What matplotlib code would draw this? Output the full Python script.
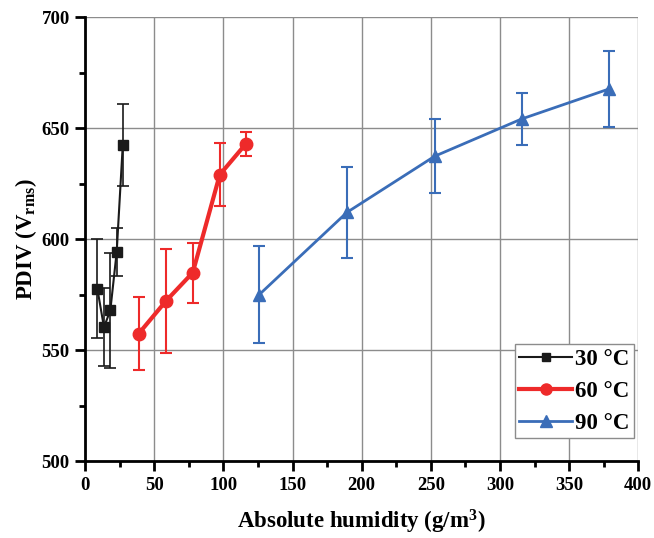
import matplotlib
matplotlib.use("Agg")
from matplotlib import pyplot as plt
from matplotlib.lines import Line2D

plt.rcParams['font.family'] = ['Liberation Serif', 'DejaVu Serif']
plt.rcParams['font.weight'] = 'bold'
plt.rcParams['mathtext.fontset'] = 'custom'
plt.rcParams['mathtext.rm'] = 'Liberation Serif:bold'
plt.rcParams['mathtext.bf'] = 'Liberation Serif:bold'
plt.rcParams['mathtext.it'] = 'Liberation Serif:bold'

# data
hum_30 = [8.9, 13.7, 18.3, 22.9, 27.3]
pdiv_30 = [577.8, 560.4, 568.0, 594.3, 642.5]
err_30 = [22.3, 17.6, 25.8, 11.0, 18.4]

hum_60 = [38.8, 58.5, 77.9, 97.4, 116.4]
pdiv_60 = [557.5, 572.2, 585.0, 629.1, 643.1]
err_60 = [16.3, 23.6, 13.5, 14.3, 5.4]

hum_90 = [126.0, 189.3, 252.7, 315.6, 378.7]
pdiv_90 = [575.1, 612.1, 637.4, 654.2, 667.7]
err_90 = [22.0, 20.6, 16.6, 11.6, 17.1]

labels = ['30 °C', '60 °C', '90 °C']

fig = plt.figure(figsize=(6.54, 5.38), dpi=100)
ax = fig.add_axes([0.130, 0.1426, 0.846, 0.8252])

styles = [dict(color='#1a1a1a', lw=1.5, marker='s', ms=7, elw=1.2),
          dict(color='#ee2a2a', lw=3, marker='o', ms=9, elw=1.5),
          dict(color='#3a6db8', lw=2, marker='^', ms=9, elw=1.5)]
series = [(hum_30, pdiv_30, err_30), (hum_60, pdiv_60, err_60),
          (hum_90, pdiv_90, err_90)]

handles = []
for (x, y, e), st, lab in zip(series, styles, labels):
    ax.errorbar(x, y, yerr=e, color=st['color'], lw=st['lw'],
                marker=st['marker'], ms=st['ms'], capsize=4,
                elinewidth=st['elw'], capthick=st['elw'], zorder=3)
    handles.append(Line2D([], [], color=st['color'], lw=st['lw'],
                          marker=st['marker'], ms=st['ms'] - 1, label=lab))

ax.set_xlim(0, 400)
ax.set_ylim(500, 700)
ax.set_xticks(range(0, 401, 50))
ax.set_yticks(range(500, 701, 50))
ax.set_xticks(range(25, 400, 50), minor=True)
ax.set_yticks(range(525, 700, 50), minor=True)
ax.grid(True, which='major', color='#8c8c8c', lw=1, zorder=0)
ax.set_axisbelow(True)

for s in ['top', 'right']:
    ax.spines[s].set_visible(False)
for s in ['left', 'bottom']:
    ax.spines[s].set_linewidth(2)

ax.tick_params(which='major', direction='out', length=7, width=2,
               labelsize=13.5, pad=4)
ax.tick_params(which='minor', direction='out', length=4, width=2)

ax.set_xlabel('Absolute humidity (g/m$^{3}$)', fontsize=16.5,
              fontweight='bold', labelpad=10)
ax.set_ylabel('PDIV (V$_{\\mathrm{rms}}$)', fontsize=16.5, fontweight='bold',
              labelpad=2)

leg = ax.legend(handles=handles, loc='lower right',
                bbox_to_anchor=(0.993, 0.052), fontsize=16.5, frameon=True,
                fancybox=False, handlelength=2.3, borderpad=0.2,
                labelspacing=0.48, handletextpad=0.15, borderaxespad=0)
leg.get_frame().set_edgecolor('#8c8c8c')
leg.get_frame().set_linewidth(1)
leg.get_frame().set_alpha(1)

fig.savefig('out.png', dpi=100)
